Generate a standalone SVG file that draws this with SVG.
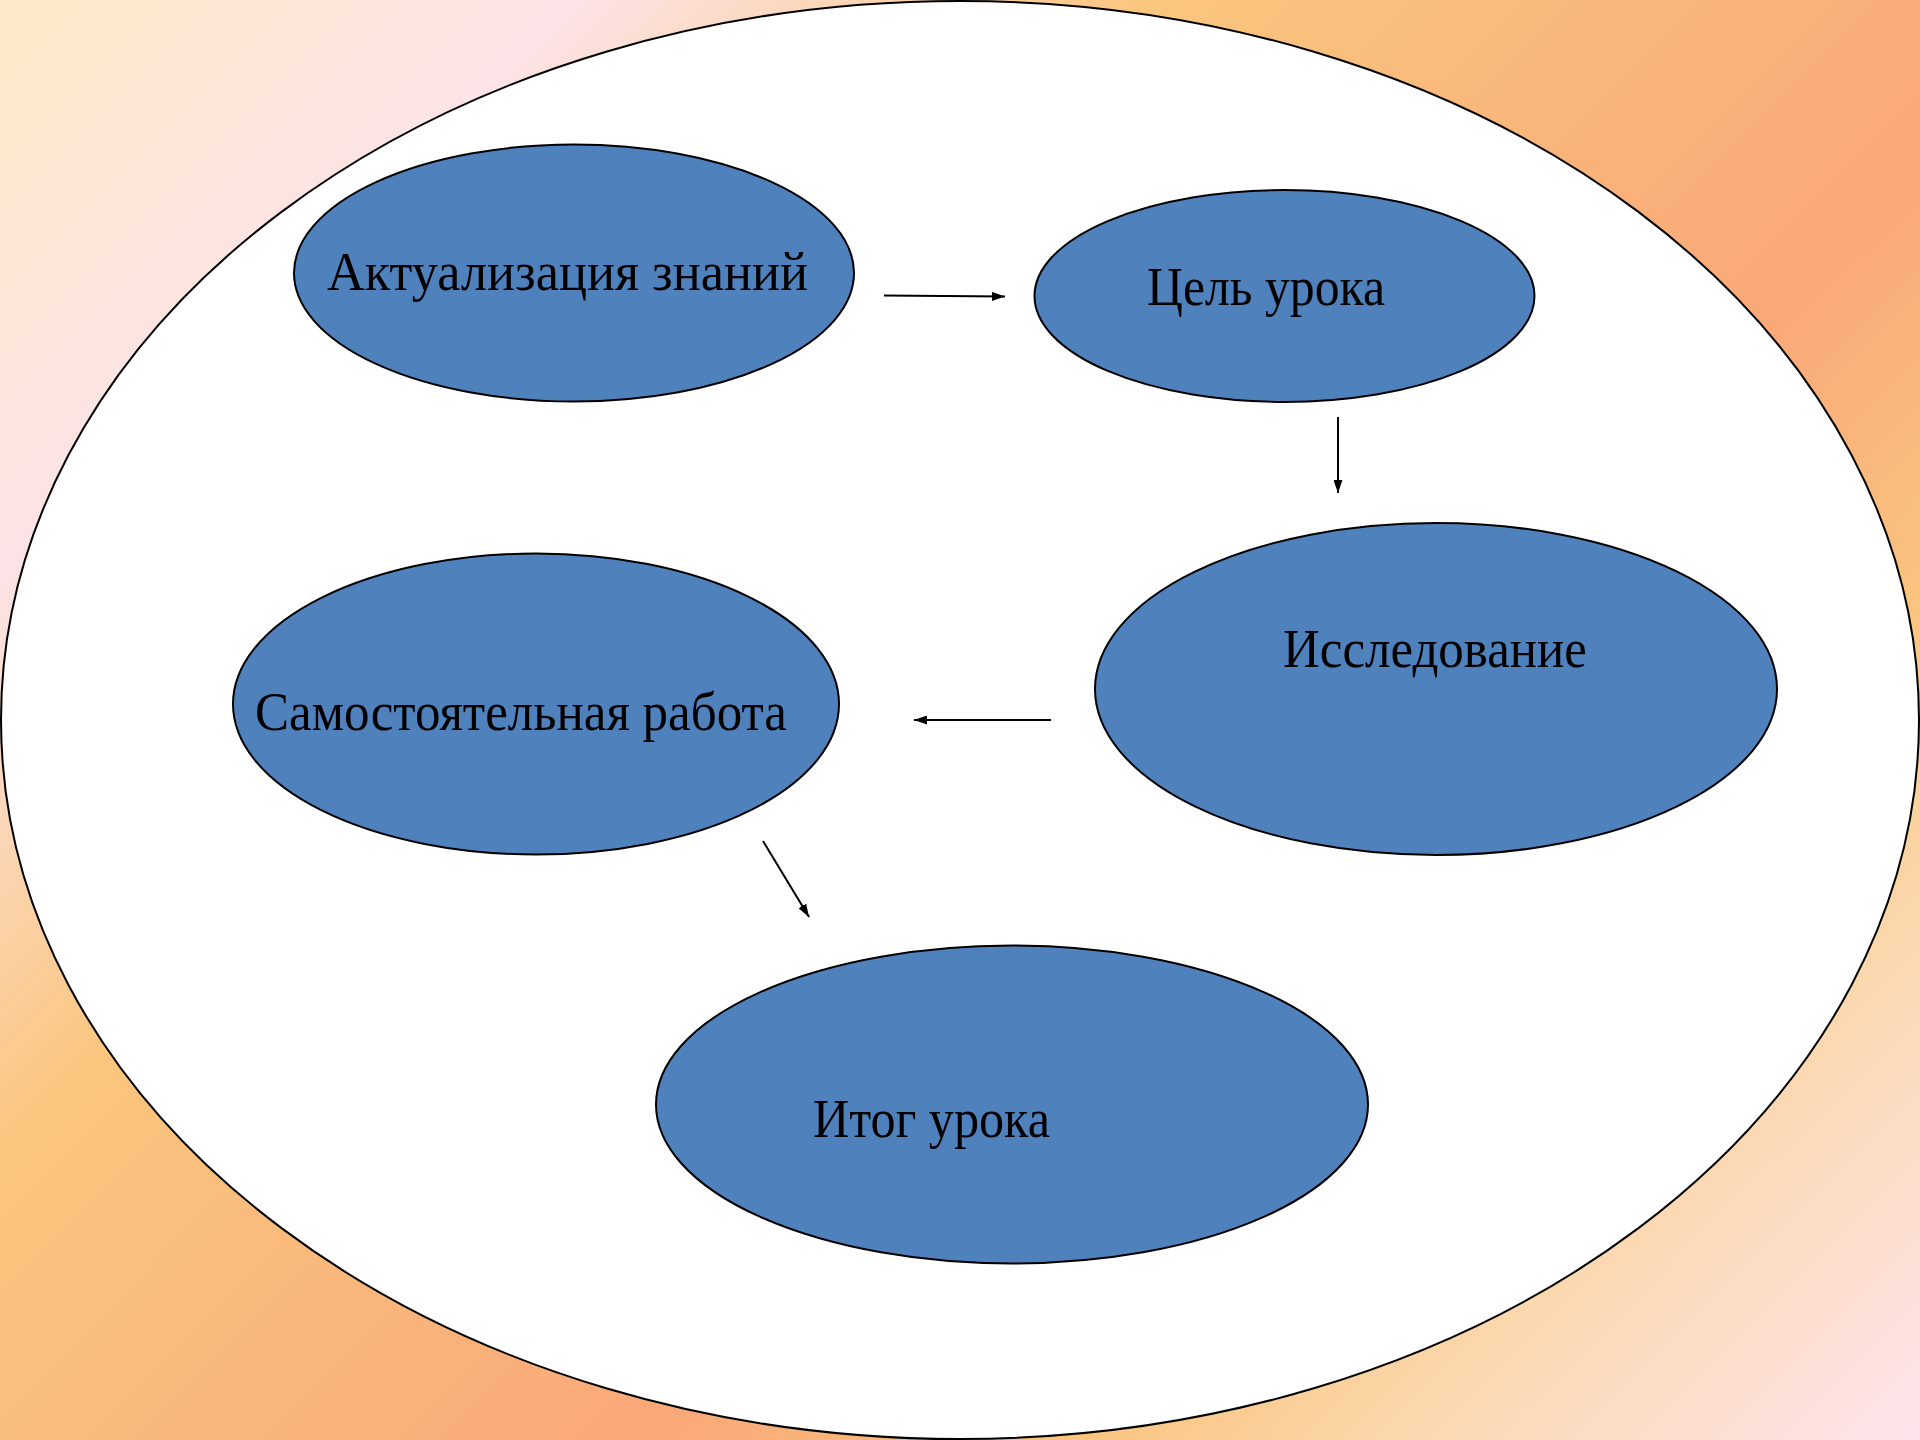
<svg xmlns="http://www.w3.org/2000/svg" width="1920" height="1440" viewBox="0 0 1920 1440">
<defs>
<linearGradient id="bg" gradientUnits="userSpaceOnUse" x1="0" y1="0" x2="1680" y2="1680">
<stop offset="0" stop-color="#FBEAC6"/>
<stop offset="0.17" stop-color="#FCE3E6"/>
<stop offset="0.345" stop-color="#FAC67E"/>
<stop offset="0.62" stop-color="#F9A878"/>
<stop offset="0.75" stop-color="#FAC47F"/>
<stop offset="0.84" stop-color="#FBD7AC"/>
<stop offset="1" stop-color="#FDE4EC"/>
</linearGradient>
<marker id="ah" viewBox="0 0 13 9" refX="13" refY="4.5" markerWidth="13" markerHeight="9" markerUnits="userSpaceOnUse" orient="auto">
<path d="M0,0 L13,4.5 L0,9 Z" fill="#000"/>
</marker>
<style>
.node{fill:#4F81BD;stroke:#000;stroke-width:2}
.lbl{font-family:"Liberation Serif","DejaVu Serif",serif;font-size:54px;fill:#000}
.con{stroke:#000;stroke-width:2;fill:none;marker-end:url(#ah)}
</style>
</defs>
<rect x="0" y="0" width="1920" height="1440" fill="url(#bg)"/>
<ellipse id="frame" cx="960" cy="720" rx="959" ry="719" fill="#fff" stroke="#000" stroke-width="2"/>
<g id="n1"><ellipse class="node" cx="574" cy="273" rx="280" ry="128.5"/><text class="lbl" x="327" y="290" textLength="481" lengthAdjust="spacingAndGlyphs">Актуализация знаний</text></g>
<g id="n2"><ellipse class="node" cx="1284.5" cy="296" rx="250" ry="106"/><text class="lbl" x="1147" y="305" textLength="238" lengthAdjust="spacingAndGlyphs">Цель урока</text></g>
<g id="n3"><ellipse class="node" cx="1436" cy="689" rx="341" ry="166"/><text class="lbl" x="1283" y="667" textLength="304" lengthAdjust="spacingAndGlyphs">Исследование</text></g>
<g id="n4"><ellipse class="node" cx="536" cy="704" rx="303" ry="150.5"/><text class="lbl" x="255" y="730" textLength="532" lengthAdjust="spacingAndGlyphs">Самостоятельная работа</text></g>
<g id="n5"><ellipse class="node" cx="1012" cy="1104.5" rx="356" ry="159"/><text class="lbl" x="813" y="1137" textLength="237" lengthAdjust="spacingAndGlyphs">Итог урока</text></g>
<g id="connectors">
<line class="con" x1="884" y1="295.5" x2="1005" y2="296.5"/>
<line class="con" x1="1338" y1="417" x2="1338" y2="493"/>
<line class="con" x1="1051" y1="720" x2="914" y2="720"/>
<line class="con" x1="763" y1="841" x2="809" y2="917"/>
</g>
</svg>
